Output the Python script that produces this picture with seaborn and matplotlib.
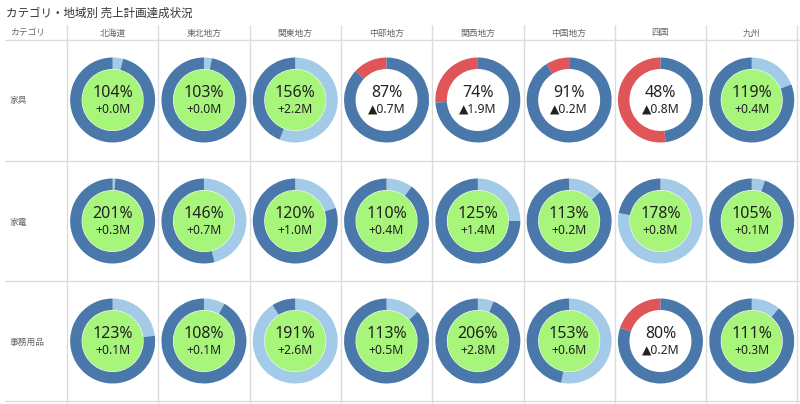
import numpy as np
import pandas as pd
import matplotlib
matplotlib.use("Agg")
import matplotlib.pyplot as plt
from matplotlib.patches import Wedge, Circle
import seaborn as sns

# ---- data ----
title = "カテゴリ・地域別 売上計画達成状況"
corner_label = "カテゴリ"
regions = ["北海道", "東北地方", "関東地方", "中部地方", "関西地方", "中国地方", "四国", "九州"]
categories = ["家具", "家電", "事務用品"]

pct_furniture = [104, 103, 156, 87, 74, 91, 48, 119]
delta_furniture = [0.0, 0.0, 2.2, -0.7, -1.9, -0.2, -0.8, 0.4]
pct_appliance = [201, 146, 120, 110, 125, 113, 178, 105]
delta_appliance = [0.3, 0.7, 1.0, 0.4, 1.4, 0.2, 0.8, 0.1]
pct_office = [123, 108, 191, 113, 206, 153, 80, 111]
delta_office = [0.1, 0.1, 2.6, 0.5, 2.8, 0.6, -0.2, 0.3]

rows = []
for cat, pcts, deltas in zip(categories,
                             [pct_furniture, pct_appliance, pct_office],
                             [delta_furniture, delta_appliance, delta_office]):
    for reg, p, d in zip(regions, pcts, deltas):
        rows.append({"category": cat, "region": reg, "pct": p, "delta": d})
df = pd.DataFrame(rows)

# ---- style ----
sns.set_theme(style="white")
plt.rcParams["font.family"] = ["Noto Sans CJK JP", "DejaVu Sans"]
NUM_FONT = ["Noto Sans", "DejaVu Sans"]

DARK = "#4a78aa"
LIGHT = "#a3cbe8"
RED = "#e05557"
GREEN = "#a8f57c"
GRID = "#dcdcdc"
TXT = "#222222"
LBL = "#666666"

W, H = 800, 404
fig = plt.figure(figsize=(8.0, 4.04), dpi=100)
ax = fig.add_axes([0, 0, 1, 1])
ax.set_xlim(0, W)
ax.set_ylim(0, H)
ax.set_aspect("equal")
ax.axis("off")

def Y(ypx):
    return H - ypx

col_edges = [67, 158.3, 249.6, 340.9, 432.2, 523.5, 614.8, 706.1, 797.4]
row_edges = [40, 160.5, 281, 401]
col_centers = [(a + b) / 2 for a, b in zip(col_edges[:-1], col_edges[1:])]
row_centers = [100, 221, 341]

# grid lines
for x in col_edges:
    ax.plot([x, x], [Y(25), Y(404)], color=GRID, lw=1, zorder=1)
for y in row_edges:
    ax.plot([5, 800], [Y(y), Y(y)], color=GRID, lw=1, zorder=1)

# title & headers
ax.text(6, Y(13), title, fontsize=8.3, color="#333333", ha="left", va="center")
ax.text(10, Y(33), corner_label, fontsize=6.3, color=LBL, ha="left", va="center")
for cx, reg in zip(col_centers, regions):
    ax.text(cx, Y(33), reg, fontsize=6.3, color=LBL, ha="center", va="center")
for cy, cat in zip(row_centers, categories):
    ax.text(10, Y(cy + 1), cat, fontsize=6.3, color=LBL, ha="left", va="center")

R_OUT = 42.5
R_IN = 31
for _, r in df.iterrows():
    ci = regions.index(r["region"])
    ri = categories.index(r["category"])
    cx, cy = col_centers[ci], Y(row_centers[ri])
    p = r["pct"]
    width = R_OUT - R_IN
    if p >= 100:
        f = (p % 100) / 100.0
        if f > 0:
            ax.add_patch(Wedge((cx, cy), R_OUT, 90 - 360 * f, 90, width=width,
                               facecolor=LIGHT, edgecolor="none", zorder=2))
        ax.add_patch(Wedge((cx, cy), R_OUT, -270, 90 - 360 * f, width=width,
                           facecolor=DARK, edgecolor="none", zorder=2))
        ax.add_patch(Circle((cx, cy), R_IN - 0.5, facecolor=GREEN, edgecolor="none", zorder=2))
    else:
        f = (100 - p) / 100.0
        ax.add_patch(Wedge((cx, cy), R_OUT, 90, 90 + 360 * f, width=width,
                           facecolor=RED, edgecolor="none", zorder=2))
        ax.add_patch(Wedge((cx, cy), R_OUT, 90 + 360 * f, 450, width=width,
                           facecolor=DARK, edgecolor="none", zorder=2))
    d = r["delta"]
    dtxt = f"+{d:.1f}M" if d >= 0 else f"▲{abs(d):.1f}M"
    ax.text(cx, cy + 7, f"{p}%", fontsize=11.5, color=TXT, ha="center", va="center",
            family=NUM_FONT, zorder=3)
    ax.text(cx, cy - 9.5, dtxt, fontsize=8.8, color=TXT, ha="center", va="center",
            family=NUM_FONT, zorder=3)

fig.savefig("out.png", dpi=100, facecolor="white")
